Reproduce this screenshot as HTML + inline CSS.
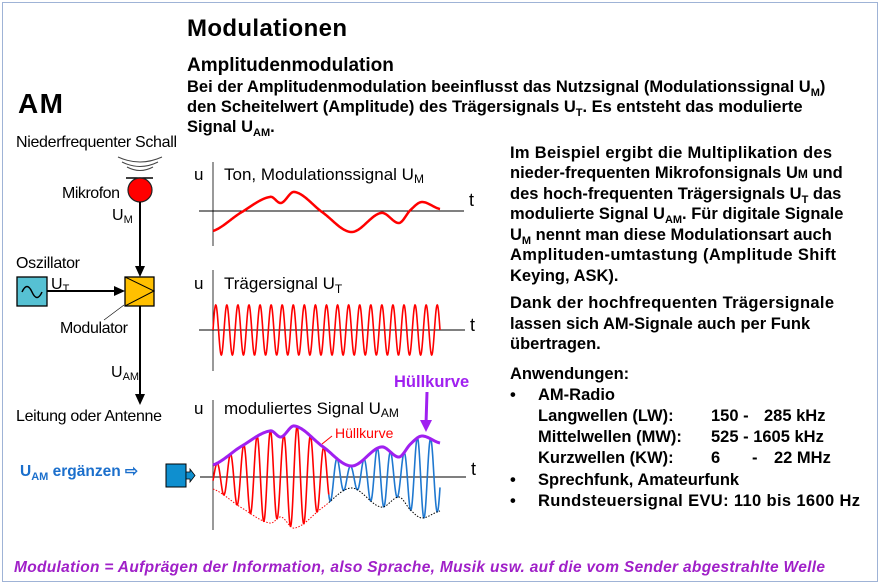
<!DOCTYPE html>
<html><head><meta charset="utf-8"><style>
html,body{margin:0;padding:0;background:#fff}
svg{display:block;font-family:"Liberation Sans",Arial,sans-serif}
.b{font-weight:bold}
</style></head><body>
<svg id="s" width="880" height="584" viewBox="0 0 880 584">
<rect x="2.5" y="2.5" width="875" height="579" fill="#fff" stroke="#9fb3d6" stroke-width="1"/>
<text x="187" y="36" font-size="24" class="b" textLength="160">Modulationen</text>
<text x="187" y="71" font-size="19" class="b">Amplitudenmodulation</text>
<g font-size="16.5" class="b">
<text x="187" y="92">Bei der Amplitudenmodulation beeinflusst das Nutzsignal (Modulationssignal U<tspan font-size="11" dy="4">M</tspan><tspan dy="-4">)</tspan></text>
<text x="187" y="112">den Scheitelwert (Amplitude) des Trägersignals U<tspan font-size="11" dy="4">T</tspan><tspan dy="-4">. Es entsteht das modulierte</tspan></text>
<text x="187" y="132">Signal U<tspan font-size="11" dy="4">AM</tspan><tspan dy="-4">.</tspan></text>
</g>
<g font-size="16.5" class="b">
<text x="510" y="158" textLength="322">Im Beispiel ergibt die Multiplikation des</text>
<text x="510" y="178">nieder-frequenten Mikrofonsignals U<tspan font-size="12">M</tspan> und</text>
<text x="510" y="199">des hoch-frequenten Trägersignals U<tspan font-size="11" dy="4">T</tspan><tspan dy="-4"> das</tspan></text>
<text x="510" y="219">modulierte Signal U<tspan font-size="11" dy="4">AM</tspan><tspan dy="-4">. Für digitale Signale</tspan></text>
<text x="510" y="240">U<tspan font-size="11" dy="4">M</tspan><tspan dy="-4"> nennt man diese Modulationsart auch</tspan></text>
<text x="510" y="260" textLength="326">Amplituden-umtastung (Amplitude Shift</text>
<text x="510" y="281">Keying, ASK).</text>
<text x="510" y="308" textLength="324">Dank der hochfrequenten Trägersignale</text>
<text x="510" y="329">lassen sich AM-Signale auch per Funk</text>
<text x="510" y="349">übertragen.</text>
<text x="510" y="379">Anwendungen:</text>
<text x="510" y="400">•</text><text x="538" y="400">AM-Radio</text>
<text x="538" y="421">Langwellen (LW):</text><text x="711" y="421">150 -</text><text x="764" y="421">285 kHz</text>
<text x="538" y="442">Mittelwellen (MW):</text><text x="711" y="442">525 - 1605 kHz</text>
<text x="538" y="463">Kurzwellen (KW):</text><text x="711" y="463">6</text><text x="752" y="463">-</text><text x="774" y="463">22 MHz</text>
<text x="510" y="485">•</text><text x="538" y="485">Sprechfunk, Amateurfunk</text>
<text x="510" y="506">•</text><text x="538" y="506" textLength="322">Rundsteuersignal EVU: 110 bis 1600 Hz</text>
</g>
<text x="14" y="572" font-size="15.5" class="b" font-style="italic" fill="#a020c8" textLength="811">Modulation = Aufprägen der Information, also Sprache, Musik usw. auf die vom Sender abgestrahlte Welle</text>

<g>
<text x="18" y="113" font-size="28" class="b" textLength="45">AM</text>
<text x="16" y="147" font-size="16" textLength="161">Niederfrequenter Schall</text>
<g fill="none" stroke="#444" stroke-width="1">
<path d="M118 157 Q140 167 162 157"/><path d="M122 162 Q140 171 158 162"/><path d="M127 167 Q140 174 153 167"/>
</g>
<line x1="126" y1="178" x2="153" y2="178" stroke="#000" stroke-width="1.5"/>
<circle cx="140" cy="190" r="12" fill="#f00" stroke="#222" stroke-width="1.2"/>
<text x="62" y="198" font-size="16" textLength="58">Mikrofon</text>
<text x="112" y="220" font-size="16">U<tspan font-size="11" dy="3">M</tspan></text>
<line x1="140" y1="202" x2="140" y2="268" stroke="#000" stroke-width="2"/>
<path d="M135 266 L145 266 L140 277 Z"/>
<text x="16" y="268" font-size="16" textLength="64">Oszillator</text>
<rect x="17" y="277" width="30" height="29" fill="#56c1d3" stroke="#000" stroke-width="1.3"/>
<path d="M22 292 Q27 281 32 292 Q37 303 42 292" fill="none" stroke="#000" stroke-width="1.5"/>
<text x="51" y="289" font-size="16">U<tspan font-size="11" dy="3">T</tspan></text>
<line x1="47" y1="291" x2="116" y2="291" stroke="#000" stroke-width="2"/>
<path d="M114 286 L125 291 L114 296 Z"/>
<rect x="125" y="277" width="29" height="29" fill="#ffc000" stroke="#000" stroke-width="1.3"/>
<path d="M125 277 L154 291 L125 306" fill="none" stroke="#000" stroke-width="1"/>
<line x1="124" y1="305" x2="104" y2="320" stroke="#000" stroke-width="0.6"/>
<text x="60" y="333" font-size="16" textLength="68">Modulator</text>
<line x1="140" y1="306" x2="140" y2="396" stroke="#000" stroke-width="2"/>
<path d="M135 394 L145 394 L140 405 Z"/>
<text x="111" y="377" font-size="16">U<tspan font-size="11" dy="3">AM</tspan></text>
<text x="16" y="421" font-size="16" textLength="146">Leitung oder Antenne</text>
</g>
<text x="20" y="476" font-size="15.5" class="b" fill="#1b6fcc">U<tspan font-size="11" dy="4">AM</tspan><tspan dy="-4"> ergänzen ⇨</tspan></text>
<g>
<rect x="166" y="464" width="20" height="23" fill="#0f8fcf" stroke="#000" stroke-width="1"/>
<path d="M186 472 L190 472 L190 469 L195 475.5 L190 482 L190 479 L186 479 Z" fill="#0f8fcf" stroke="#000" stroke-width="0.8"/>
</g>

<g>
<line x1="213" y1="162" x2="213" y2="246" stroke="#333" stroke-width="1"/>
<line x1="199" y1="211" x2="464" y2="211" stroke="#000" stroke-width="1"/>
<text x="194" y="180" font-size="17">u</text>
<text x="224" y="180" font-size="17">Ton, Modulationssignal U<tspan font-size="12" dy="3">M</tspan></text>
<text x="469" y="206" font-size="18">t</text>
<path id="modPath" fill="none" stroke="#f00" stroke-width="2.5"/>
</g>
<g>
<line x1="213" y1="270" x2="213" y2="371" stroke="#333" stroke-width="1"/>
<line x1="199" y1="330" x2="465" y2="330" stroke="#000" stroke-width="1"/>
<text x="194" y="289" font-size="17">u</text>
<text x="224" y="289" font-size="17">Trägersignal U<tspan font-size="12" dy="4">T</tspan></text>
<text x="470" y="331" font-size="18">t</text>
<path id="carPath" fill="none" stroke="#f00" stroke-width="1.6"/>
</g>
<g>
<line x1="213" y1="400" x2="213" y2="530" stroke="#333" stroke-width="1"/>
<line x1="200" y1="477" x2="466" y2="477" stroke="#555" stroke-width="1.5"/>
<text x="194" y="414" font-size="17">u</text>
<text x="224" y="414" font-size="17">moduliertes Signal U<tspan font-size="12" dy="3">AM</tspan></text>
<text x="471" y="475" font-size="18">t</text>
<path id="amRed" fill="none" stroke="#f00" stroke-width="1.6"/>
<path id="amBlue" fill="none" stroke="#1f78d0" stroke-width="1.6"/>
<path id="lowRed" fill="none" stroke="#f00" stroke-width="1" stroke-dasharray="1.5,1.5"/>
<path id="lowBlack" fill="none" stroke="#000" stroke-width="1" stroke-dasharray="1.5,1.5"/>
<path id="envPath" fill="none" stroke="#a020f0" stroke-width="3"/>
<text x="335" y="438" font-size="14" fill="#f00">Hüllkurve</text>
<line x1="322" y1="444" x2="332" y2="436" stroke="#f00" stroke-width="1"/>
<text x="394" y="387" font-size="16.5" class="b" fill="#a020f0">Hüllkurve</text>
<line x1="427" y1="392" x2="426" y2="424" stroke="#a020f0" stroke-width="3"/>
<path d="M420 420 L432 420 L426 432 Z" fill="#a020f0"/>
</g>
</svg>
<script>
const modTimes = [0, 0.12, 0.25, 0.30, 0.36, 0.48, 0.61, 0.74, 0.82, 0.87, 0.92, 1.0];
const modValues = [-20, -2, 14, 8, 19, -1, -21, -2, -12, 1, 9, 2];
const carrierCycles = [20.5];
const carrierAmplitude = [25];
const amCycles = [17];
const amOffset = [32];
const redUntil = [0.51];

const X0 = 213, XW = 227;
const xs = t => X0 + t * XW;
const y1 = v => 211 - v;
const y2 = v => 330 - v;
const y3 = v => 477 - v;

function mAt(t) {
  const n = modTimes.length;
  let i = 0;
  while (i < n - 2 && t > modTimes[i + 1]) i++;
  const u = (t - modTimes[i]) / (modTimes[i + 1] - modTimes[i]);
  const p0 = modValues[Math.max(i - 1, 0)], p1 = modValues[i], p2 = modValues[i + 1], p3 = modValues[Math.min(i + 2, n - 1)];
  return 0.5 * ((2 * p1) + (-p0 + p2) * u + (2 * p0 - 5 * p1 + 4 * p2 - p3) * u * u + (-p0 + 3 * p1 - 3 * p2 + p3) * u * u * u);
}
function path(f, a, b, N) {
  let d = '';
  for (let k = 0; k <= N; k++) {
    const t = a + (b - a) * k / N;
    d += (k ? 'L' : 'M') + xs(t).toFixed(2) + ' ' + f(t).toFixed(2);
  }
  return d;
}
const S = 900;
document.getElementById('modPath').setAttribute('d', path(t => y1(mAt(t)), 0, 1, 300));
document.getElementById('carPath').setAttribute('d', path(t => y2(carrierAmplitude[0] * Math.sin(2 * Math.PI * carrierCycles[0] * t)), 0, 1, S));
const env = t => amOffset[0] + mAt(t);
const ph = Math.PI / 2 - 2 * Math.PI * amCycles[0] * (4 / XW);
const am = t => y3(env(t) * Math.sin(2 * Math.PI * amCycles[0] * t + ph));
const r = redUntil[0];
document.getElementById('amRed').setAttribute('d', path(am, 0, r, Math.round(S * r)));
document.getElementById('amBlue').setAttribute('d', path(am, r, 1, Math.round(S * (1 - r))));
document.getElementById('lowRed').setAttribute('d', path(t => y3(-env(t)), 0, r, 120));
document.getElementById('lowBlack').setAttribute('d', path(t => y3(-env(t)), r, 1, 120));
document.getElementById('envPath').setAttribute('d', path(t => y3(env(t)), 0, 1, 200));
</script>
</body></html>
